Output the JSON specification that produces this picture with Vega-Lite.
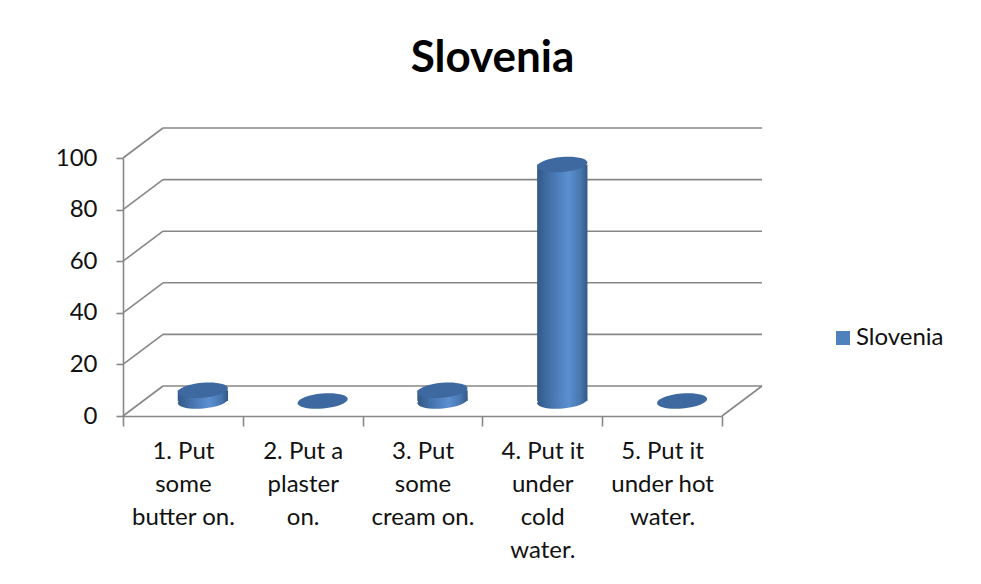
{
  "$schema": "https://vega.github.io/schema/vega-lite/v6.json",
  "width": 599,
  "height": 258,
  "autosize": {"type": "none"},
  "padding": {"left": 123, "top": 158, "right": 259, "bottom": 168},
  "background": "white",
  "config": {"view": {"stroke": null}, "font": "Lato"},
  "title": {"text": "Slovenia", "font": "Lato", "fontSize": 44, "fontWeight": "bold", "color": "#000000", "anchor": "middle", "dx": 70, "baseline": "alphabetic", "offset": 11},
  "datasets": {
    "main": [
      {"cat": "1. Put some butter on.", "val": 4.17},
      {"cat": "2. Put a plaster on.", "val": 0},
      {"cat": "3. Put some cream on.", "val": 4.17},
      {"cat": "4. Put it under cold water.", "val": 91.67},
      {"cat": "5. Put it under hot water.", "val": 0}
    ],
    "grid": [{"v": 0}, {"v": 20}, {"v": 40}, {"v": 60}, {"v": 80}, {"v": 100}]
  },
  "resolve": {"scale": {"x": "independent"}},
  "layer": [
    {
      "data": {"name": "grid"},
      "layer": [
        {
          "mark": {"type": "rule", "color": "#878787", "strokeWidth": 1.6, "xOffset": 40, "x2Offset": 40, "yOffset": -30, "y2Offset": -30},
          "encoding": {
            "x": {"datum": 0, "type": "quantitative", "scale": {"domain": [0, 1], "nice": false, "zero": false}, "axis": null},
            "x2": {"datum": 1},
            "y": {"field": "v", "type": "quantitative", "scale": {"domain": [0, 100]}},
            "y2": {"field": "v"}
          }
        },
        {
          "mark": {"type": "rule", "color": "#878787", "strokeWidth": 1.6, "x2Offset": 40, "y2Offset": -30},
          "encoding": {
            "x": {"datum": 0, "type": "quantitative", "scale": {"domain": [0, 1], "nice": false, "zero": false}, "axis": null},
            "x2": {"datum": 0},
            "y": {"field": "v", "type": "quantitative"},
            "y2": {"field": "v"}
          }
        },
        {
          "transform": [{"filter": "datum.v == 0"}],
          "mark": {"type": "rule", "color": "#878787", "strokeWidth": 1.6, "x2Offset": 40, "y2Offset": -30},
          "encoding": {
            "x": {"datum": 1, "type": "quantitative", "scale": {"domain": [0, 1], "nice": false, "zero": false}, "axis": null},
            "x2": {"datum": 1},
            "y": {"field": "v", "type": "quantitative"},
            "y2": {"field": "v"}
          }
        }
      ]
    },
    {
      "data": {"name": "main"},
      "layer": [
        {
          "mark": {
            "type": "bar",
            "width": {"band": 0.42},
            "xOffset": 20,
            "yOffset": -15,
            "y2Offset": -15,
            "fill": {"gradient": "linear", "x1": 0, "y1": 0, "x2": 1, "y2": 0, "stops": [
              {"offset": 0, "color": "#325886"},
              {"offset": 0.3, "color": "#4676b0"},
              {"offset": 0.62, "color": "#5b8fd0"},
              {"offset": 0.86, "color": "#4877b0"},
              {"offset": 1, "color": "#325886"}
            ]},
            "stroke": null
          },
          "encoding": {
            "x": {
              "field": "cat", "type": "nominal", "sort": null,
              "scale": {"paddingInner": 0, "paddingOuter": 0},
              "axis": {
                "title": null,
                "labelAngle": 0,
                "labelFont": "Lato",
                "labelFontSize": 24,
                "labelColor": "#111111",
                "labelLineHeight": 33,
                "labelPadding": 13,
                "labelLimit": 0,
                "labelExpr": "{'1. Put some butter on.': ['1. Put', 'some', 'butter on.'], '2. Put a plaster on.': ['2. Put a', 'plaster', 'on.'], '3. Put some cream on.': ['3. Put', 'some', 'cream on.'], '4. Put it under cold water.': ['4. Put it', 'under', 'cold', 'water.'], '5. Put it under hot water.': ['5. Put it', 'under hot', 'water.']}[datum.label]",
                "tickBand": "extent",
                "tickSize": 10,
                "tickColor": "#878787",
                "tickWidth": 1.6,
                "domainColor": "#878787",
                "domainWidth": 1.6,
                "grid": false
              }
            },
            "y": {
              "field": "val", "type": "quantitative",
              "scale": {"domain": [0, 100]},
              "axis": {
                "title": null,
                "values": [0, 20, 40, 60, 80, 100],
                "labelFont": "Lato",
                "labelFontSize": 24,
                "labelColor": "#111111",
                "labelPadding": 19,
                "tickSize": 7,
                "tickColor": "#878787",
                "tickWidth": 1.6,
                "domainColor": "#878787",
                "domainWidth": 1.6,
                "grid": false
              }
            },
            "y2": {"datum": 0}
          }
        },
        {
          "transform": [{"filter": "datum.val > 0"}],
          "mark": {
            "type": "point",
            "shape": "M-1,0A1,0.3,0,1,0,1,0A1,0.3,0,1,0,-1,0Z",
            "filled": true,
            "opacity": 1,
            "size": 2530,
            "angle": -5,
            "xOffset": 20,
            "yOffset": -15,
            "strokeWidth": 0,
            "fill": {"gradient": "linear", "x1": 0, "y1": 0, "x2": 1, "y2": 0, "stops": [
              {"offset": 0, "color": "#325886"},
              {"offset": 0.3, "color": "#4676b0"},
              {"offset": 0.62, "color": "#5b8fd0"},
              {"offset": 0.86, "color": "#4877b0"},
              {"offset": 1, "color": "#325886"}
            ]}
          },
          "encoding": {
            "x": {"field": "cat", "type": "nominal", "sort": null},
            "y": {"datum": 0, "type": "quantitative"}
          }
        },
        {
          "mark": {
            "type": "point",
            "shape": "M-1,0A1,0.3,0,1,0,1,0A1,0.3,0,1,0,-1,0Z",
            "filled": true,
            "opacity": 1,
            "size": 2530,
            "angle": -5,
            "xOffset": 20,
            "yOffset": -15,
            "strokeWidth": 0,
            "fill": "#3d69a0"
          },
          "encoding": {
            "x": {"field": "cat", "type": "nominal", "sort": null},
            "y": {"field": "val", "type": "quantitative"}
          }
        },
        {
          "transform": [{"filter": "false"}],
          "mark": {"type": "square", "filled": true, "opacity": 1},
          "encoding": {
            "color": {
              "datum": "Slovenia",
              "scale": {"range": ["#4f81bd"]},
              "legend": {
                "title": null,
                "orient": "none",
                "legendX": 708,
                "legendY": 168,
                "padding": 0,
                "symbolType": "square",
                "symbolSize": 196,
                "symbolStrokeWidth": 0,
                "symbolOpacity": 1,
                "labelFont": "Lato",
                "labelFontSize": 24,
                "labelColor": "#111111",
                "labelOffset": 1
              }
            }
          }
        }
      ]
    }
  ]
}
